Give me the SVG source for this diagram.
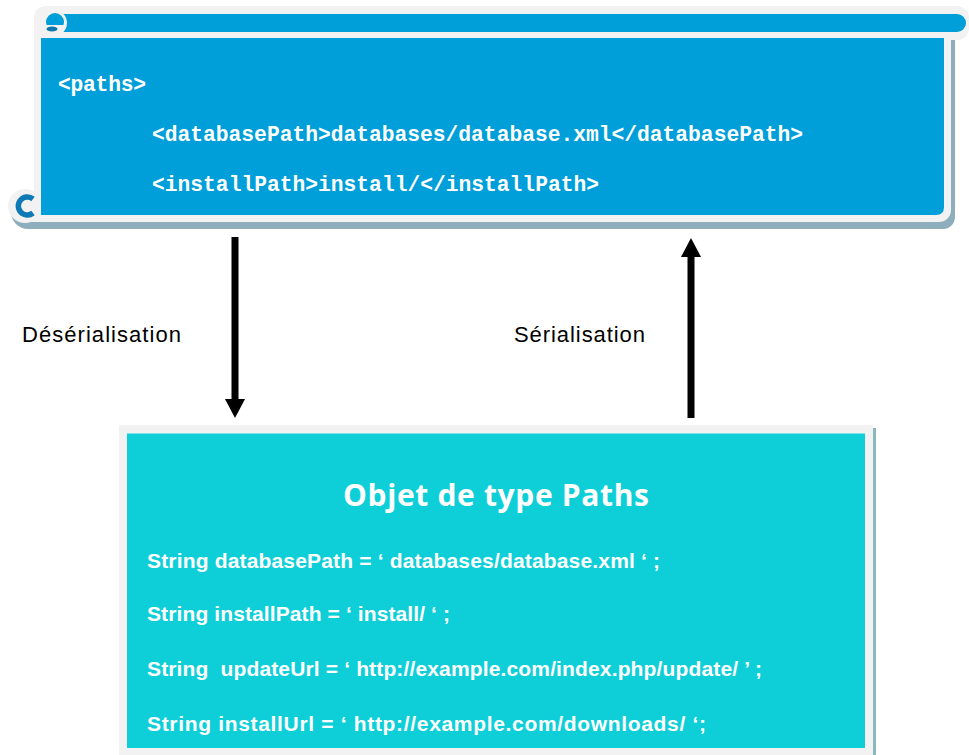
<svg xmlns="http://www.w3.org/2000/svg" width="969" height="755" viewBox="0 0 969 755">
<style>
.mono{font-family:"Liberation Mono","Courier New",monospace;font-weight:bold;font-size:21.3px;fill:#ffffff}
.lbl{font-family:"Liberation Sans",Arial,sans-serif;font-size:22px;fill:#000000}
.code{font-family:"Liberation Sans",Arial,sans-serif;font-weight:bold;font-size:21px;fill:#ffffff}
.title{font-family:"Open Sans","Liberation Sans",sans-serif;font-weight:bold;font-size:30px;fill:#ffffff}
</style>
<rect width="969" height="755" fill="#ffffff"/>
<g id="xml-scroll">
  <rect x="37" y="12" width="918" height="217" rx="12" fill="#8eaebd"/>
  <circle cx="28" cy="212" r="17" fill="#8eaebd"/>
  <rect x="28" y="215" width="20" height="14" fill="#8eaebd"/>
  <rect x="34" y="6" width="935" height="34" rx="12" fill="#f2f2f2"/>
  <rect x="34" y="6" width="917" height="216" rx="12" fill="#f2f2f2"/>
  <circle cx="25" cy="206" r="17" fill="#f2f2f2"/>
  <rect x="25" y="200" width="20" height="22" fill="#f2f2f2"/>
  <rect x="42" y="14" width="924" height="18" rx="9" fill="#009fd9"/>
  <path d="M41,38 L944,38 L944,207 Q944,215 936,215 L41,215 Z" fill="#009fd9"/>
  <circle cx="54" cy="23" r="13" fill="#f2f2f2"/>
  <circle cx="55" cy="22" r="9" fill="#009fd9"/>
  <path d="M46,25 L64,25 L64,31 L46,31 Z" fill="#f2f2f2"/>
  <ellipse cx="52" cy="29" rx="5.5" ry="2.4" fill="#0d78ad"/>
  <path d="M33,199 A9,9 0 1 0 33,213" fill="none" stroke="#0d7ab5" stroke-width="5.5"/>
  <text class="mono" x="58" y="91" textLength="88">&lt;paths&gt;</text>
  <text class="mono" x="152" y="141" textLength="651">&lt;databasePath&gt;databases/database.xml&lt;/databasePath&gt;</text>
  <text class="mono" x="152" y="191" textLength="447">&lt;installPath&gt;install/&lt;/installPath&gt;</text>
</g>
<g id="paths-object">
  <rect x="122" y="428" width="754" height="335" fill="#8ab8bf"/>
  <rect x="119" y="425" width="754" height="335" fill="#f2f2f2"/>
  <rect x="127" y="433" width="738" height="315" fill="#0ecfd8"/>
  <rect x="127" y="433" width="738" height="1" fill="#7fe2e8"/>
  <text class="title" x="496" y="506" text-anchor="middle" textLength="306">Objet de type Paths</text>
  <text class="code" x="147" y="568" textLength="513">String databasePath = ‘ databases/database.xml ‘ ;</text>
  <text class="code" x="147" y="621" textLength="303">String installPath = ‘ install/ ‘ ;</text>
  <text class="code" x="147" y="676" textLength="615" xml:space="preserve">String  updateUrl = ‘ http://example.com/index.php/update/ ’ ;</text>
  <text class="code" x="147" y="731" textLength="559">String installUrl = ‘ http://example.com/downloads/ ‘;</text>
</g>
<g id="connectors">
  <line x1="235" y1="237" x2="235" y2="400" stroke="#000" stroke-width="7"/>
  <polygon points="225,399 245,399 235,418" fill="#000"/>
  <line x1="691" y1="418" x2="691" y2="256" stroke="#000" stroke-width="7"/>
  <polygon points="681,257 701,257 691,238" fill="#000"/>
  <text class="lbl" x="22" y="342" textLength="159">Désérialisation</text>
  <text class="lbl" x="514" y="342" textLength="131">Sérialisation</text>
</g>
</svg>
